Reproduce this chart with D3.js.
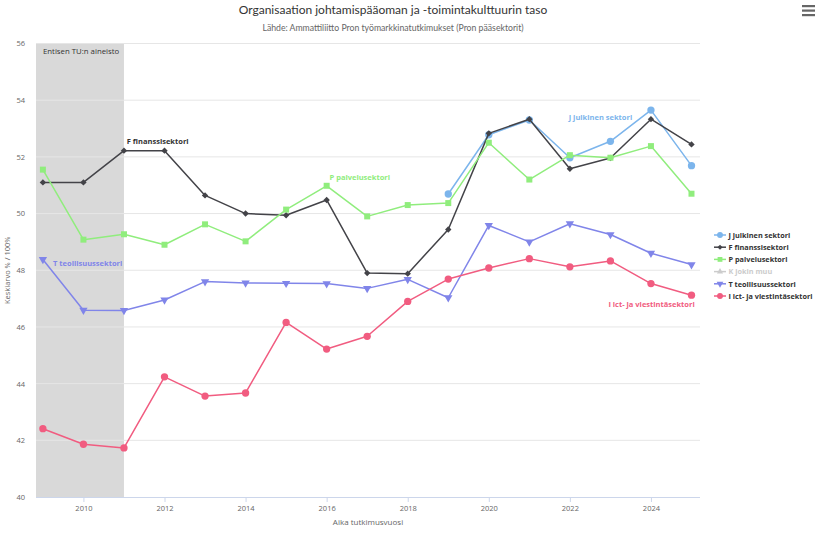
<!DOCTYPE html>
<html>
<head>
<meta charset="utf-8">
<script src="https://cdn.jsdelivr.net/npm/d3@7"></script>
<style>
  body { margin: 0; background: #fff; }
  svg { display: block; font-family: "Open Sans", sans-serif; }
</style>
</head>
<body>
<div class="chart"></div>
<script>
// data
const years = d3.range(2009, 2026);
const julkinen = [null, null, null, null, null, null, null, null, null, null, 50.69, 52.78, 53.3, 51.97, 52.55, 53.65, 51.69];
const finanssi = [51.1, 51.1, 52.22, 52.22, 50.64, 50.0, 49.94, 50.48, 47.9, 47.88, 49.44, 52.83, 53.33, 51.58, 51.96, 53.33, 52.44];
const palvelu = [51.55, 49.08, 49.27, 48.9, 49.62, 49.02, 50.14, 50.98, 49.9, 50.3, 50.37, 52.5, 51.2, 52.06, 51.97, 52.38, 50.7];
const teollisuus = [48.38, 46.59, 46.58, 46.95, 47.6, 47.55, 47.54, 47.53, 47.36, 47.68, 47.03, 49.58, 49.0, 49.64, 49.26, 48.6, 48.2];
const ict = [42.41, 41.86, 41.73, 44.24, 43.56, 43.67, 46.16, 45.22, 45.67, 46.9, 47.69, 48.08, 48.41, 48.12, 48.33, 47.53, 47.12];
const yTicks = [40, 42, 44, 46, 48, 50, 52, 54, 56];
const xTicks = [2010, 2012, 2014, 2016, 2018, 2020, 2022, 2024];

const series = [
  { name: 'J julkinen sektori', values: julkinen, color: '#7cb5ec', symbol: d3.symbolCircle, visible: true },
  { name: 'F finanssisektori', values: finanssi, color: '#434348', symbol: d3.symbolDiamond2, visible: true },
  { name: 'P palvelusektori', values: palvelu, color: '#90ed7d', symbol: d3.symbolSquare, visible: true },
  { name: 'K jokin muu', values: [], color: '#f7a35c', symbol: d3.symbolTriangle, visible: false },
  { name: 'T teollisuussektori', values: teollisuus, color: '#8085e9', symbol: 'down', visible: true },
  { name: 'I ict- ja viestintäsektori', values: ict, color: '#f15c80', symbol: d3.symbolCircle, visible: true }
];

// where the in-chart series labels sit (year, value)
const seriesLabels = [
  { name: 'F finanssisektori', at: [2011.07, 52.45], color: '#333333' },
  { name: 'P palvelusektori', at: [2016.07, 51.2], color: '#90ed7d' },
  { name: 'J julkinen sektori', at: [2021.97, 53.3], color: '#7cb5ec' },
  { name: 'T teollisuussektori', at: [2009.25, 48.15], color: '#8085e9' },
  { name: 'I ict- ja viestintäsektori', at: [2022.95, 46.7], color: '#f15c80' }
];

const W = 816, H = 533;
const margin = { top: 43.5, right: 116, bottom: 36, left: 36 };

const svg = d3.select('.chart').append('svg')
  .attr('width', W)
  .attr('height', H);

const x = d3.scaleLinear().domain([2008.83, 2025.21]).range([margin.left, W - margin.right]);
const y = d3.scaleLinear().domain([40, 56]).range([H - margin.bottom, margin.top]);

// title + subtitle
svg.append('text')
  .attr('x', 393).attr('y', 14)
  .attr('text-anchor', 'middle')
  .style('font-family', 'Lato, sans-serif')
  .style('font-size', '12px')
  .style('font-weight', '400')
  .style('fill', '#333333')
  .text('Organisaation johtamispääoman ja -toimintakulttuurin taso');

svg.append('text')
  .attr('x', 393).attr('y', 31)
  .attr('text-anchor', 'middle')
  .style('font-family', 'Lato, sans-serif')
  .style('font-size', '8.7px')
  .style('fill', '#666666')
  .text('Lähde: Ammattiliitto Pron työmarkkinatutkimukset (Pron pääsektorit)');

// menu icon
const menu = svg.append('g').attr('transform', 'translate(802,5)');
[0, 4.5, 9].forEach(dy => {
  menu.append('rect').attr('x', 0).attr('y', dy).attr('width', 13).attr('height', 2.2).attr('fill', '#666');
});

// plot band (old data)
svg.append('rect')
  .attr('x', x(2008.83))
  .attr('y', y(56))
  .attr('width', x(2011) - x(2008.83))
  .attr('height', y(40) - y(56))
  .attr('fill', '#d9d9d9');

svg.append('text')
  .attr('x', x(2008.83) + 7)
  .attr('y', y(56) + 10)
  .style('font-size', '7.8px')
  .style('fill', '#333333')
  .text('Entisen TU:n aineisto');

// grid
svg.append('g')
  .selectAll('line')
  .data(yTicks.filter(t => t > 40))
  .enter().append('line')
  .attr('x1', margin.left).attr('x2', W - margin.right)
  .attr('y1', d => y(d)).attr('y2', d => y(d))
  .attr('stroke', '#e6e6e6')
  .attr('stroke-width', 1);

// y axis
const yAxis = svg.append('g')
  .attr('transform', 'translate(' + (margin.left - 11) + ',0)')
  .call(d3.axisLeft(y).tickValues(yTicks).tickSize(0).tickPadding(0));
yAxis.select('.domain').remove();
yAxis.selectAll('text')
  .style('font-size', '7.5px')
  .style('fill', '#666666')
  .style('font-family', 'Open Sans, sans-serif');

svg.append('text')
  .attr('transform', 'translate(10,' + ((y(40) + y(56)) / 2) + ') rotate(-90)')
  .attr('text-anchor', 'middle')
  .style('font-size', '7.5px')
  .style('fill', '#666666')
  .text('Keskiarvo % / 100%');

// x axis
const xAxis = svg.append('g')
  .attr('transform', 'translate(0,' + y(40) + ')')
  .call(d3.axisBottom(x).tickValues(xTicks).tickFormat(d3.format('d')).tickSize(5).tickSizeOuter(0).tickPadding(4));
xAxis.select('.domain')
  .attr('stroke', '#ccd6eb')
  .attr('d', 'M' + margin.left + ',0.5H' + (W - margin.right));
xAxis.selectAll('.tick line').attr('stroke', '#ccd6eb');
xAxis.selectAll('text')
  .style('font-size', '7.5px')
  .style('fill', '#666666')
  .style('font-family', 'Open Sans, sans-serif');

svg.append('text')
  .attr('x', (x.range()[0] + x.range()[1]) / 2)
  .attr('y', 525)
  .attr('text-anchor', 'middle')
  .style('font-size', '8px')
  .style('fill', '#666666')
  .text('Aika tutkimusvuosi');

// marker helper
function marker(sel, s, size) {
  if (s.symbol === 'down') {
    sel.attr('d', d3.symbol().type(d3.symbolTriangle).size(size)())
      .attr('transform', function () { return d3.select(this).attr('transform') + ' rotate(180)'; });
  } else {
    sel.attr('d', d3.symbol().type(s.symbol).size(size)());
  }
}

function markerSize(s) {
  if (s.symbol === d3.symbolCircle) return 42;
  if (s.symbol === d3.symbolSquare) return 36;
  if (s.symbol === 'down') return 30;
  return 26;
}

const line = d3.line()
  .defined(d => d[1] != null)
  .x(d => x(d[0]))
  .y(d => y(d[1]));

series.filter(s => s.visible).forEach(s => {
  const pts = years.map((yr, i) => [yr, s.values[i]]);
  svg.append('path')
    .datum(pts)
    .attr('fill', 'none')
    .attr('stroke', s.color)
    .attr('stroke-width', 1.5)
    .attr('stroke-linejoin', 'round')
    .attr('d', line);

  svg.append('g')
    .selectAll('path')
    .data(pts.filter(d => d[1] != null))
    .enter().append('path')
    .attr('transform', d => 'translate(' + x(d[0]) + ',' + y(d[1]) + ')')
    .attr('fill', s.color)
    .each(function () { marker(d3.select(this), s, markerSize(s)); });
});

// series labels
svg.append('g')
  .selectAll('text')
  .data(seriesLabels)
  .enter().append('text')
  .attr('x', d => x(d.at[0]))
  .attr('y', d => y(d.at[1]))
  .style('font-size', '7.5px')
  .style('font-weight', 'bold')
  .style('fill', d => d.color)
  .text(d => d.name);

// legend
const legend = svg.append('g').attr('transform', 'translate(714,235)');
series.forEach((s, i) => {
  const g = legend.append('g').attr('transform', 'translate(0,' + (i * 12.2) + ')');
  const col = s.visible ? s.color : '#cccccc';
  g.append('line')
    .attr('x1', 0).attr('x2', 12).attr('y1', 0).attr('y2', 0)
    .attr('stroke', col).attr('stroke-width', 1.5);
  const m = g.append('path').attr('transform', 'translate(6,0)').attr('fill', col);
  marker(m, s, markerSize(s) * 0.65);
  g.append('text')
    .attr('x', 14.5).attr('y', 2.8)
    .style('font-size', '7.3px')
    .style('font-weight', 'bold')
    .style('fill', s.visible ? '#333333' : '#cccccc')
    .text(s.name);
});
</script>
</body>
</html>
